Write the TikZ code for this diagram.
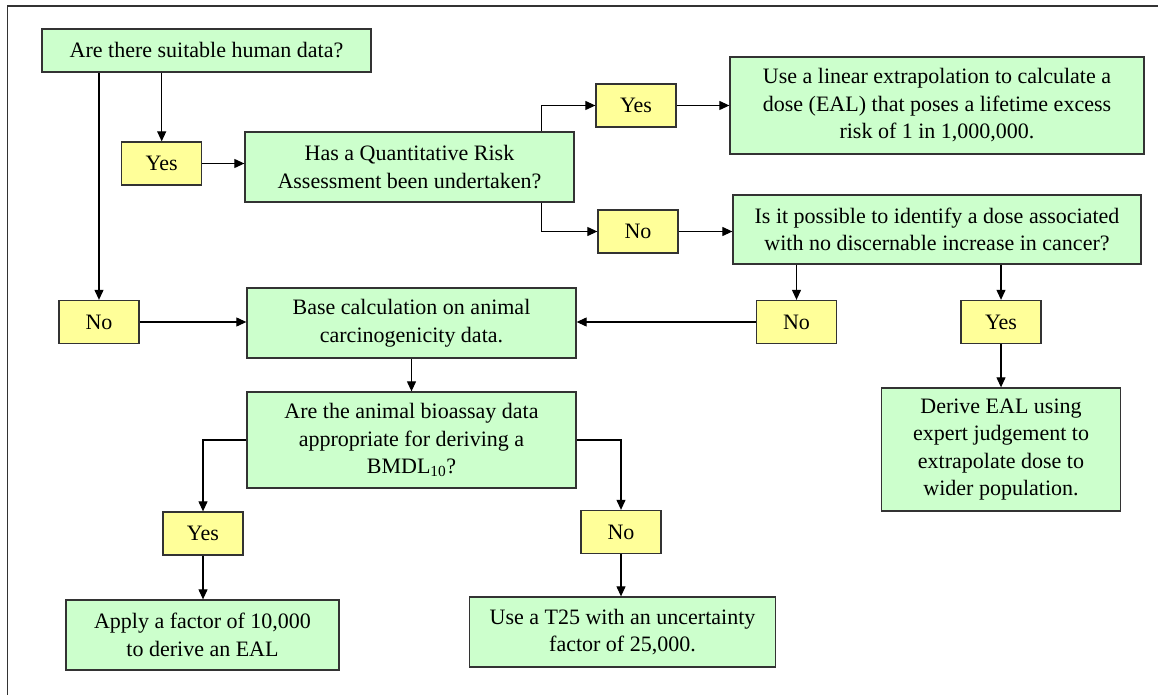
\documentclass[tikz,border=0pt]{standalone}
\usepackage{fontspec}
\setmainfont{Liberation Serif}
\usetikzlibrary{arrows.meta}
\definecolor{boxgreen}{HTML}{CCFFCC}
\definecolor{boxyellow}{HTML}{FFFF99}
\definecolor{edgegray}{HTML}{333333}
\begin{document}
\begin{tikzpicture}[x=1pt, y=-1pt, font=\fontsize{22}{27.5}\selectfont,
  qbox/.style={draw=edgegray, line width=1.3pt, fill=boxgreen, align=center, inner sep=0pt},
  ansbox/.style={draw=edgegray, line width=1.3pt, fill=boxyellow, inner sep=0pt, minimum width=80pt, minimum height=43pt},
  link/.style={line width=1.1pt, -{Triangle[length=10pt,width=9pt]}}]
\useasboundingbox (0,0) rectangle (1161,695);
\draw[line width=1.3pt, edgegray] (7.5,695) -- (7.5,6) -- (1158,6);
% questions and answers
\node[qbox, minimum width=329pt, minimum height=43pt] (human) at (206.5,50.5) {Are there suitable human data?};
\node[ansbox] (yesA) at (161.7,163.5) {Yes};
\node[qbox, minimum width=329pt, minimum height=70pt] (qra) at (409.5,167) {Has a Quantitative Risk\\Assessment been undertaken?};
\node[ansbox] (yesB) at (636,105.5) {Yes};
\node[qbox, minimum width=414pt, minimum height=97pt] (linear) at (937,105.5) {Use a linear extrapolation to calculate a\\dose (EAL) that poses a lifetime excess\\risk of 1 in 1,000,000.};
\node[ansbox] (noA) at (638,231.5) {No};
\node[qbox, minimum width=408pt, minimum height=69pt] (identify) at (937,229.5) {Is it possible to identify a dose associated\\with no discernable increase in cancer?};
\node[ansbox] (noB) at (99,322) {No};
\node[qbox, minimum width=329pt, minimum height=70pt] (base) at (411.5,323) {Base calculation on animal\\carcinogenicity data.};
\node[ansbox] (noC) at (796.5,322) {No};
\node[ansbox] (yesC) at (1001,322) {Yes};
\node[qbox, minimum width=239pt, minimum height=123pt] (derive) at (1001,449.5) {Derive EAL using\\expert judgement to\\extrapolate dose to\\wider population.};
\node[qbox, minimum width=329pt, minimum height=96pt] (bioassay) at (411.5,440) {Are the animal bioassay data\\appropriate for deriving a\\BMDL\textsubscript{10}?};
\node[ansbox] (yesD) at (203,533.5) {Yes};
\node[ansbox] (noD) at (621,532) {No};
\node[qbox, minimum width=273pt, minimum height=70pt] (apply) at (202.5,635) {Apply a factor of 10,000\\to derive an EAL};
\node[qbox, minimum width=306pt, minimum height=70pt] (t25) at (622.5,632) {Use a T25 with an uncertainty\\factor of 25,000.};
% connectors
\draw[link] (human.south -| yesA) -- (yesA);
\draw[link] (human.south -| noB) -- (noB);
\draw[link] (yesA.east) -- (yesA.east -| qra.west);
\draw[link] ([xshift=-33pt]qra.north east) |- (yesB);
\draw[link] ([xshift=-33pt]qra.south east) |- (noA);
\draw[link] (yesB) -- (linear);
\draw[link] (noA.east) -- (noA.east -| identify.west);
\draw[link] (identify.south -| noC) -- (noC);
\draw[link] (identify.south -| yesC) -- (yesC);
\draw[link] (noC.west) -- (noC.west -| base.east);
\draw[link] (noB.east) -- (noB.east -| base.west);
\draw[link] (yesC) -- (derive);
\draw[link] (base) -- (bioassay);
\draw[link] (bioassay.west) -| (yesD);
\draw[link] (bioassay.east) -| (noD);
\draw[link] (yesD.south) -- (yesD.south |- apply.north);
\draw[link] (noD.south) -- (noD.south |- t25.north);
\end{tikzpicture}
\end{document}
